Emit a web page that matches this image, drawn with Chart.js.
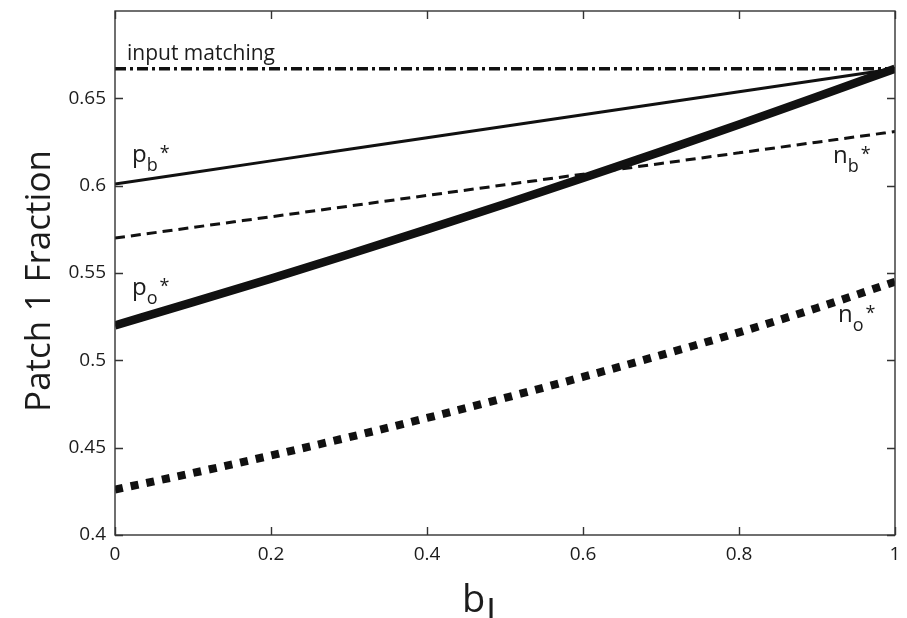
<!DOCTYPE html>
<html>
<head>
<meta charset="utf-8">
<script src="https://cdn.jsdelivr.net/npm/chart.js@4.4.1/dist/chart.umd.min.js"></script>
<style>
  html, body { margin: 0; padding: 0; background: #fff; }
  #wrap { width: 907px; height: 618px; position: relative; }
</style>
</head>
<body>
<div id="wrap"><canvas id="c" width="907" height="618"></canvas></div>
<script>
// ---- data ----
const bl = [0, 0.1, 0.2, 0.3, 0.4, 0.5, 0.6, 0.7, 0.8, 0.9, 1.0];
const inputMatching = [0.667, 0.667, 0.667, 0.667, 0.667, 0.667, 0.667, 0.667, 0.667, 0.667, 0.667];
const pbStar = [0.601, 0.6076, 0.6142, 0.6208, 0.6274, 0.634, 0.6406, 0.6472, 0.6538, 0.6604, 0.667];
const nbStar = [0.570, 0.5761, 0.5822, 0.5883, 0.5944, 0.6005, 0.6066, 0.6127, 0.6188, 0.6249, 0.631];
const poStar = [0.520, 0.5333, 0.5468, 0.5607, 0.5750, 0.5895, 0.6044, 0.6195, 0.6350, 0.6509, 0.667];
const noStar = [0.426, 0.4355, 0.4455, 0.456, 0.467, 0.4785, 0.4905, 0.503, 0.516, 0.530, 0.545];
const xTicks = [0, 0.2, 0.4, 0.6, 0.8, 1];
const yTicks = [0.4, 0.45, 0.5, 0.55, 0.6, 0.65];

// curve annotations (text, subscript, anchor in data coordinates)
const curveLabels = [
  { main: 'p', sub: 'b', x: 0.0218, y: 0.6135 },
  { main: 'n', sub: 'b', x: 0.9205, y: 0.6129 },
  { main: 'p', sub: 'o', x: 0.0218, y: 0.5374 },
  { main: 'n', sub: 'o', x: 0.927,  y: 0.5219 }
];
const topLabel = { text: 'input matching', x: 0.0154, y: 0.6719 };

const FONT = '"Open Sans", "Noto Sans", sans-serif';
const INK = '#1c1c1c';

function pts(ys) { return bl.map((b, i) => ({ x: b, y: ys[i] })); }

const frameAndLabels = {
  id: 'frameAndLabels',
  afterDatasetsDraw(chart) {
    const { ctx, chartArea: a, scales } = chart;
    const xs = scales.x, ys = scales.y;
    ctx.save();
    // frame
    ctx.strokeStyle = '#333';
    ctx.lineWidth = 1.4;
    ctx.strokeRect(a.left, a.top, a.right - a.left, a.bottom - a.top);
    // inward ticks on all four sides
    const L = 8;
    ctx.beginPath();
    xTicks.forEach(v => {
      const p = Math.round(xs.getPixelForValue(v)) + 0.5;
      ctx.moveTo(p, a.bottom); ctx.lineTo(p, a.bottom - L);
      ctx.moveTo(p, a.top); ctx.lineTo(p, a.top + L);
    });
    yTicks.forEach(v => {
      const p = Math.round(ys.getPixelForValue(v)) + 0.5;
      ctx.moveTo(a.left, p); ctx.lineTo(a.left + L, p);
      ctx.moveTo(a.right, p); ctx.lineTo(a.right - L, p);
    });
    ctx.stroke();

    // annotations
    ctx.fillStyle = INK;
    ctx.textBaseline = 'alphabetic';
    ctx.textAlign = 'left';
    ctx.font = '21px ' + FONT;
    ctx.fillText(topLabel.text, xs.getPixelForValue(topLabel.x), ys.getPixelForValue(topLabel.y));
    curveLabels.forEach(l => {
      const px = xs.getPixelForValue(l.x), py = ys.getPixelForValue(l.y);
      ctx.font = '24px ' + FONT;
      ctx.fillText(l.main, px, py);
      const w = ctx.measureText(l.main).width;
      ctx.font = '18px ' + FONT;
      ctx.fillText(l.sub, px + w, py + 9);
      const ws = ctx.measureText(l.sub).width;
      ctx.fillText('*', px + w + ws + 2, py - 3);
    });

    // axis titles
    ctx.font = '35px ' + FONT;
    ctx.save();
    ctx.translate(50, (a.top + a.bottom) / 2 + 8);
    ctx.rotate(-Math.PI / 2);
    ctx.textAlign = 'center';
    ctx.fillText('Patch 1 Fraction', 0, 0);
    ctx.restore();

    ctx.font = '38px ' + FONT;
    ctx.textAlign = 'left';
    const bx = 462;
    const bw = ctx.measureText('b').width;
    ctx.fillText('b', bx, 612);
    ctx.fillText('l', bx + bw + 1, 627);
    ctx.restore();
  }
};

const common = { pointRadius: 0, fill: false, borderColor: '#111', borderCapStyle: 'butt', cubicInterpolationMode: 'monotone' };

new Chart(document.getElementById('c'), {
  type: 'line',
  data: {
    datasets: [
      Object.assign({ label: 'n_o*', data: pts(noStar), borderWidth: 8, borderDash: [8, 8] }, common),
      Object.assign({ label: 'n_b*', data: pts(nbStar), borderWidth: 3, borderDash: [10, 6] }, common),
      Object.assign({ label: 'p_o*', data: pts(poStar), borderWidth: 8.5 }, common),
      Object.assign({ label: 'p_b*', data: pts(pbStar), borderWidth: 3 }, common),
      Object.assign({ label: 'input matching', data: pts(inputMatching), borderWidth: 3.5, borderDash: [11, 4, 3, 4] }, common)
    ]
  },
  options: {
    responsive: false,
    animation: false,
    devicePixelRatio: 1,
    layout: { padding: { left: 0, right: 12, top: 11, bottom: 0 } },
    plugins: { legend: { display: false }, tooltip: { enabled: false } },
    scales: {
      x: {
        type: 'linear', min: 0, max: 1,
        grid: { display: false, drawTicks: false },
        border: { display: false },
        afterBuildTicks: s => { s.ticks = xTicks.map(v => ({ value: v })); },
        afterFit: s => { s.height = 83; s.paddingLeft = 0; s.paddingRight = 0; },
        ticks: {
          padding: 8, color: INK, font: { family: FONT, size: 19 },
          callback: v => String(Number(v.toFixed(2)))
        }
      },
      y: {
        type: 'linear', min: 0.4, max: 0.7,
        grid: { display: false, drawTicks: false },
        border: { display: false },
        afterBuildTicks: s => { s.ticks = yTicks.map(v => ({ value: v })); },
        afterFit: s => { s.width = 115; s.paddingTop = 0; s.paddingBottom = 0; },
        ticks: {
          padding: 9, color: INK, font: { family: FONT, size: 19 },
          callback: v => String(Number(v.toFixed(2)))
        }
      }
    }
  },
  plugins: [frameAndLabels]
});
</script>
</body>
</html>
